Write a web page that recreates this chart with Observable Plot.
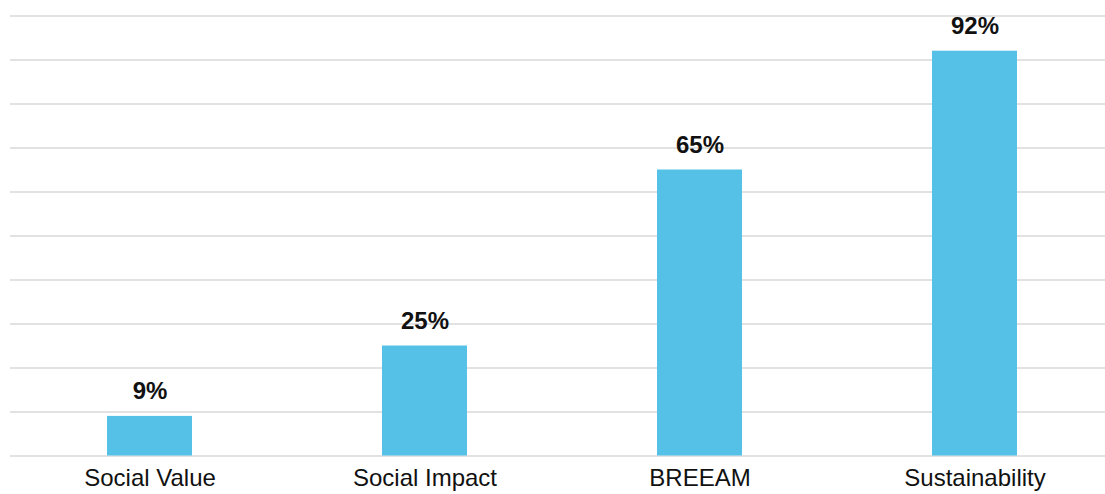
<!DOCTYPE html>
<html>
<head>
<meta charset="utf-8">
<script src="https://cdn.jsdelivr.net/npm/d3@7"></script>
<script src="https://cdn.jsdelivr.net/npm/@observablehq/plot@0.6"></script>
<style>
  html, body { margin: 0; padding: 0; background: #fff; overflow: hidden; }
  svg { display: block; }
</style>
</head>
<body>
<div id="chart"></div>
<script>
const categories = ["Social Value", "Social Impact", "BREEAM", "Sustainability"];
const values = [9, 25, 65, 92];
const gridTicks = [0, 10, 20, 30, 40, 50, 60, 70, 80, 90, 100];

const data = categories.map((c, i) => ({category: c, value: values[i]}));

const chart = Plot.plot({
  width: 1105,
  height: 494,
  marginTop: 15.5,
  marginBottom: 38.5,
  marginLeft: 10,
  marginRight: -8,
  style: {fontFamily: "'Liberation Sans', Arial, sans-serif", background: "#fff", overflow: "hidden"},
  x: {domain: categories, padding: 0, axis: null},
  y: {domain: [0, 100], axis: null},
  marks: [
    Plot.ruleY(gridTicks, {stroke: "#d9d9d9", strokeWidth: 1.5}),
    Plot.barY(data, {x: "category", y: "value", fill: "#56C1E7", insetLeft: 95, insetRight: 95}),
    Plot.text(data, {x: "category", y: "value", text: d => d.value + "%", dy: -25, fontSize: 24, fontWeight: "bold", fill: "#111"}),
    Plot.axisX({tickSize: 0, tickPadding: 13, fontSize: 24, color: "#111", label: null})
  ]
});
document.getElementById("chart").appendChild(chart);
</script>
</body>
</html>
